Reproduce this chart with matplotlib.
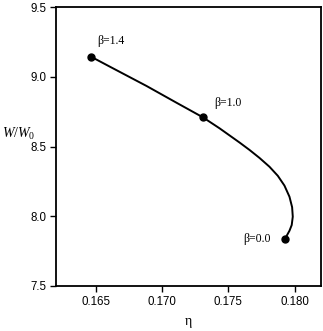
import matplotlib
matplotlib.use("Agg")
import matplotlib.pyplot as plt

plt.rcParams['font.family'] = ['Liberation Sans', 'DejaVu Sans']
plt.rcParams['mathtext.fontset'] = 'custom'
plt.rcParams['mathtext.it'] = 'Liberation Serif:italic'
plt.rcParams['mathtext.rm'] = 'Liberation Serif'

# curve (eta, W/W0), from beta=1.4 to beta=0.0
curve_eta = [0.16464, 0.16607, 0.16883, 0.17109, 0.17309, 0.17435, 0.17586,
             0.17661, 0.17736, 0.17811, 0.17874, 0.17924, 0.17962, 0.17982,
             0.17987, 0.17979, 0.17962, 0.17937, 0.17927]
curve_w = [9.144, 9.072, 8.934, 8.814, 8.709, 8.630, 8.528,
           8.475, 8.418, 8.355, 8.290, 8.220, 8.140, 8.065,
           7.997, 7.937, 7.896, 7.853, 7.839]

# marked points
beta_labels = ["β=1.4", "β=1.0", "β=0.0"]
beta_eta = [0.16464, 0.17309, 0.17927]
beta_w = [9.144, 8.709, 7.839]

xticks = [0.165, 0.170, 0.175, 0.180]
xtick_labels = ["0.165", "0.170", "0.175", "0.180"]
yticks = [7.5, 8.0, 8.5, 9.0, 9.5]
ytick_labels = ["7.5", "8.0", "8.5", "9.0", "9.5"]

fig = plt.figure(figsize=(3.23, 3.31), dpi=100)
ax = fig.add_axes([56/323, 45/331, 265/323, 279/331])

ax.plot(curve_eta, curve_w, color='black', lw=1.4, solid_capstyle='round',
        solid_joinstyle='round')
ax.plot(beta_eta, beta_w, 'o', color='black', ms=5)

serif = 'Liberation Serif'
ax.text(0.16509, 9.256, beta_labels[0], fontsize=8.5, family=serif, ha='left', va='center')
ax.text(0.17397, 8.814, beta_labels[1], fontsize=8.5, family=serif, ha='left', va='center')
ax.text(0.17824, 7.839, beta_labels[2], fontsize=8.5, family=serif, ha='right', va='center')

ax.set_xlim(0.162, 0.182)
ax.set_ylim(7.5, 9.5)
ax.set_xticks(xticks)
ax.set_xticklabels(xtick_labels, family='Liberation Sans', fontsize=8.3)
ax.set_yticks(yticks)
ax.set_yticklabels(ytick_labels, family='Liberation Sans', fontsize=8.3)
ax.tick_params(direction='out', length=4, width=1, pad=3)

for s in ax.spines.values():
    s.set_linewidth(1.3)

fig.text(2/323, 1 - 134/331, r"$W/W_{\mathit{0}}$", fontsize=10, ha='left', va='center')
fig.text(188/323, 1 - 322/331, "η", fontsize=10, family=serif, ha='center', va='center')

fig.savefig("out.png", dpi=100)
